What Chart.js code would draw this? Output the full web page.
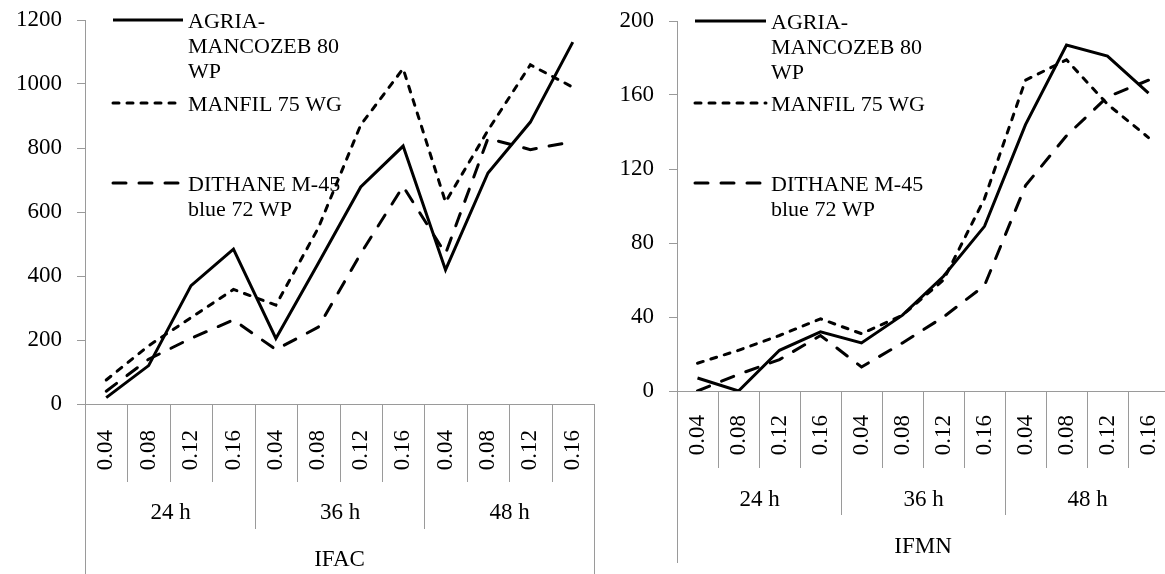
<!DOCTYPE html>
<html>
<head>
<meta charset="utf-8">
<script src="https://cdn.jsdelivr.net/npm/chart.js@4.4.1/dist/chart.umd.min.js"></script>
<style>
  html, body { margin: 0; padding: 0; background: #fff; width: 1165px; height: 574px; overflow: hidden; }
  .panel { position: absolute; top: 0; height: 574px; }
  #leftPanel { left: 0; width: 614px; }
  #rightPanel { left: 600px; width: 589px; }
</style>
</head>
<body>
<div class="panel" id="leftPanel"><canvas id="ifacChart" width="614" height="574"></canvas></div>
<div class="panel" id="rightPanel"><canvas id="ifmnChart" width="589" height="574"></canvas></div>
<script>
// categories
const groups = ['24 h', '36 h', '48 h'];
const doses = ['0.04', '0.08', '0.12', '0.16'];
const seriesNames = ['AGRIA-\nMANCOZEB 80\nWP', 'MANFIL 75 WG', 'DITHANE M-45\nblue 72 WP'];

// IFAC values
const ifacAgria   = [20, 120, 370, 484, 205, 440, 678, 806, 419, 722, 881, 1131];
const ifacManfil  = [75, 182, 270, 358, 309, 550, 872, 1048, 631, 855, 1060, 990];
const ifacDithane = [40, 140, 205, 263, 170, 240, 470, 680, 470, 830, 795, 820];

// IFMN values
const ifmnAgria   = [7, 0, 22, 32, 26, 41, 62, 89, 144, 187, 181, 161];
const ifmnManfil  = [15, 22, 30, 39, 31, 41, 60, 104, 168, 179, 155, 137];
const ifmnDithane = [0, 9, 17, 30, 13, 26, 40, 57, 111, 138, 159, 168];

// tick labels
const ifacTicks = [0, 200, 400, 600, 800, 1000, 1200];
const ifmnTicks = [0, 40, 80, 120, 160, 200];

const FONT = "'Liberation Serif', 'Times New Roman', serif";
const GRAY = '#9a9a9a';
const lineStyles = [
  { borderDash: [], borderCapStyle: 'butt' },
  { borderDash: [6, 8], borderCapStyle: 'round' },
  { borderDash: [13, 13], borderCapStyle: 'round' }
];

const labels = groups.flatMap(() => doses);

// second level of the category axis: separators + group names
const groupAxisPlugin = {
  id: 'groupAxis',
  afterDraw(chart, args, opts) {
    const { ctx, chartArea } = chart;
    const xs = chart.scales.x;
    const n = labels.length;
    const step = xs.getPixelForValue(1) - xs.getPixelForValue(0);
    const edge = i => Math.round(xs.getPixelForValue(0) + (i - 0.5) * step) + 0.5;
    const base = chartArea.bottom;
    const per = n / groups.length;
    ctx.save();
    ctx.strokeStyle = GRAY;
    ctx.lineWidth = 1;
    ctx.beginPath();
    for (let i = 0; i <= n; i++) {
      let len = opts.innerLen;
      if (i % per === 0) len = opts.groupLen;
      if (i === 0 || i === n) len = opts.outerLen;
      ctx.moveTo(edge(i), base);
      ctx.lineTo(edge(i), base + len);
    }
    ctx.stroke();
    ctx.fillStyle = '#000';
    ctx.font = '23px ' + FONT;
    ctx.textAlign = 'center';
    ctx.textBaseline = 'middle';
    groups.forEach((g, k) => {
      const cx = (edge(k * per) + edge((k + 1) * per)) / 2;
      ctx.fillText(g, cx, base + opts.groupY);
    });
    ctx.restore();
  }
};

// legend inside the plot area
const insideLegendPlugin = {
  id: 'insideLegend',
  afterDatasetsDraw(chart, args, opts) {
    const { ctx } = chart;
    ctx.save();
    ctx.font = '22px ' + FONT;
    ctx.textBaseline = 'middle';
    ctx.textAlign = 'left';
    chart.data.datasets.forEach((ds, i) => {
      const y = opts.ys[i];
      ctx.strokeStyle = '#000';
      ctx.lineWidth = 3;
      ctx.setLineDash(ds.borderDash || []);
      ctx.lineCap = ds.borderCapStyle || 'butt';
      ctx.beginPath();
      ctx.moveTo(opts.x, y);
      ctx.lineTo(opts.x + opts.len, y);
      ctx.stroke();
      ctx.fillStyle = '#000';
      ds.label.split('\n').forEach((t, k) => {
        ctx.fillText(t, opts.x + opts.len + 5, y + 2 + k * 25);
      });
    });
    ctx.restore();
  }
};

function makeChart(id, series, ticks, title, o) {
  const ctx = document.getElementById(id).getContext('2d');
  return new Chart(ctx, {
    type: 'line',
    data: {
      labels: labels,
      datasets: series.map((values, i) => ({
        label: seriesNames[i],
        data: values,
        borderColor: '#000',
        borderWidth: 3,
        borderDash: lineStyles[i].borderDash,
        borderCapStyle: lineStyles[i].borderCapStyle,
        borderJoinStyle: 'miter',
        pointRadius: 0,
        tension: 0,
        fill: false
      }))
    },
    options: {
      responsive: false,
      animation: false,
      layout: { padding: { top: o.top, right: 20, left: 0, bottom: 0 } },
      plugins: {
        legend: { display: false },
        tooltip: { enabled: false },
        groupAxis: o.groupAxis,
        insideLegend: o.legend
      },
      scales: {
        x: {
          type: 'category',
          offset: true,
          ticks: {
            autoSkip: false, minRotation: 90, maxRotation: 90,
            color: '#000', font: { family: FONT, size: 23, lineHeight: 0.4 }, padding: o.tickPad
          },
          grid: { display: false, drawTicks: false },
          border: { color: GRAY },
          title: {
            display: true, text: title, color: '#000',
            font: { family: FONT, size: 23 }, padding: { top: 0, bottom: o.titlePad }
          },
          afterFit(s) { s.height = o.xHeight; }
        },
        y: {
          min: ticks[0],
          max: ticks[ticks.length - 1],
          ticks: {
            stepSize: ticks[1] - ticks[0],
            callback: v => String(v),
            color: '#000', font: { family: FONT, size: 23, lineHeight: 0.4 }, padding: 15
          },
          grid: { drawOnChartArea: false, tickLength: 8, color: GRAY },
          border: { color: GRAY },
          afterFit(s) { s.width = o.yWidth; }
        }
      }
    },
    plugins: [groupAxisPlugin, insideLegendPlugin]
  });
}

makeChart('ifacChart', [ifacAgria, ifacManfil, ifacDithane], ifacTicks, 'IFAC', {
  top: 20, yWidth: 85, xHeight: 170, tickPad: 26, titlePad: 0,
  groupAxis: { innerLen: 78, groupLen: 125, outerLen: 170, groupY: 109 },
  legend: { x: 113, len: 70, ys: [20, 103, 183] }
});

makeChart('ifmnChart', [ifmnAgria, ifmnManfil, ifmnDithane], ifmnTicks, 'IFMN', {
  top: 21, yWidth: 77, xHeight: 183, tickPad: 24, titlePad: 13,
  groupAxis: { innerLen: 77, groupLen: 124, outerLen: 172, groupY: 109 },
  legend: { x: 95, len: 71, ys: [21, 103, 183] }
});
</script>
</body>
</html>
